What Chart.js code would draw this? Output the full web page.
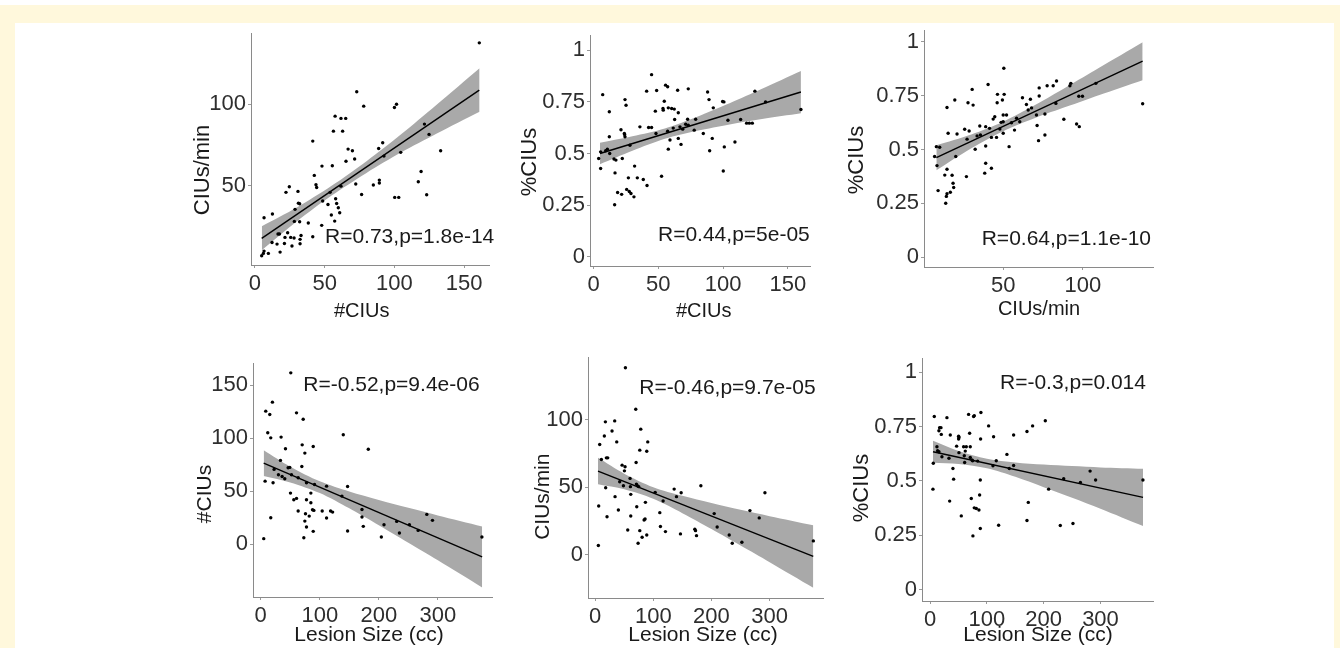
<!DOCTYPE html>
<html>
<head>
<meta charset="utf-8">
<script src="https://cdn.jsdelivr.net/npm/chart.js@4.4.1/dist/chart.umd.min.js"></script>
<style>
  html, body { margin: 0; padding: 0; background: #fff; width: 1340px; height: 648px; overflow: hidden; position: relative; }
  .frame { position: absolute; background: #fff8dc; }
  canvas { position: absolute; }
</style>
</head>
<body>
<div class="frame" style="left:0;top:5px;width:1340px;height:18px"></div>
<div class="frame" style="left:0;top:5px;width:15px;height:643px"></div>
<div class="frame" style="left:1334px;top:5px;width:6px;height:643px"></div>
<script>
// panel 1: #CIUs vs CIUs/min
const p1x = [160.8,73.0,78.0,100.0,101.5,57.5,61.7,65.1,56.3,62.9,121.5,124.8,41.5,91.6,88.7,66.8,69.9,71.5,133.1,104.5,
  92.5,65.3,48.1,55.5,42.6,119.1,43.8,44.3,89.2,89.2,84.9,117.1,72.3,61.7,24.7,30.9,22.3,53.9,76.5,123.1,
  100.2,103.1,57.9,48.6,31.2,32.1,58.6,52.4,59.8,28.8,60.8,12.6,54.8,6.6,57.2,28.3,32.1,38.3,47.9,16.6,
  17.6,23.5,41.5,21.6,25.7,28.1,33.1,32.4,12.3,15.9,21.2,32.4,26.6,18.1,9.7,6.6,6.1,4.9];
const p1y = [137.6,107.6,98.8,98.0,100.0,92.7,91.3,91.3,83.5,83.5,87.8,81.5,77.4,76.4,72.9,72.5,71.5,66.4,71.5,70.5,
  68.2,65.1,62.1,62.3,56.4,58.8,50.7,49.0,53.5,51.7,50.5,52.5,51.1,49.8,49.4,46.6,46.0,46.0,44.7,44.5,
  42.9,42.9,42.1,40.7,39.4,39.0,39.2,38.6,36.6,35.6,33.5,32.7,32.1,30.4,28.4,28.2,28.0,27.2,25.8,20.5,
  20.5,21.3,18.8,18.4,18.4,18.0,19.6,17.2,15.3,14.3,14.7,14.5,13.1,9.4,8.6,10.0,8.6,7.2];
const p1fitX = [4.9, 160.8];
const p1fitY = [17.8, 108.6];
const p1bandX = [5, 30, 55, 80, 105, 130, 161];
const p1bandHi = [25.2, 36.7, 50.0, 65.1, 81.7, 99.5, 122.0];
const p1bandLo = [10.6, 28.1, 44.0, 57.9, 70.5, 81.9, 95.4];

// panel 2: #CIUs vs %CIUs
const p2x = [44.8,7.1,55.6,57.2,41.0,48.7,64.9,73.1,88.0,89.1,124.5,132.7,24.3,25.1,12.2,47.7,54.6,53.6,53.8,57.7,
  60.3,62.3,65.4,72.6,99.6,100.6,92.4,78.8,62.6,42.5,44.8,35.8,21.2,23.8,24.0,12.2,24.3,48.2,57.2,61.5,
  66.7,68.8,71.1,73.1,77.7,84.7,103.7,113.5,118.1,120.2,122.5,59.0,65.4,67.5,91.6,100.9,109.1,5.5,9.4,10.7,
  12.5,22.2,28.1,57.7,89.6,4.0,5.5,15.8,17.3,16.6,31.7,26.9,33.8,38.4,52.5,100.1,41.3,18.6,21.7,25.6,
  27.6,28.9,31.2,16.3,160.0];
const p2y = [0.882,0.785,0.831,0.823,0.802,0.805,0.806,0.813,0.798,0.761,0.802,0.750,0.761,0.734,0.702,0.705,0.753,0.718,0.710,0.721,
  0.718,0.715,0.697,0.666,0.752,0.750,0.721,0.666,0.665,0.626,0.626,0.629,0.615,0.597,0.592,0.581,0.581,0.597,0.608,0.623,
  0.629,0.618,0.642,0.637,0.613,0.597,0.661,0.665,0.647,0.647,0.647,0.565,0.573,0.544,0.573,0.532,0.556,0.508,0.513,0.521,
  0.500,0.476,0.540,0.521,0.513,0.476,0.427,0.473,0.468,0.406,0.439,0.382,0.382,0.374,0.390,0.415,0.345,0.311,0.302,0.326,
  0.316,0.306,0.290,0.252,0.713];
const p2fitX = [5, 160];
const p2fitY = [0.500, 0.798];
const p2bandX = [5, 30, 55, 80, 105, 130, 160];
const p2bandHi = [0.552, 0.583, 0.621, 0.678, 0.743, 0.813, 0.899];
const p2bandLo = [0.448, 0.513, 0.571, 0.610, 0.641, 0.667, 0.695];

// panel 3: CIUs/min vs %CIUs
const p3x = [50.4,40.5,30.5,77.6,83.5,81.4,92.5,91.9,108.2,19.6,27.9,31.1,46.4,50.6,46.2,49.5,62.1,67.1,64.6,67.8,
  72.6,72.6,83.1,97.5,99.8,14.7,50.0,52.1,44.7,43.7,48.7,50.0,58.4,60.4,65.7,70.9,76.2,55.2,88.1,96.1,
  97.8,71.3,35.3,39.0,25.8,28.6,41.4,47.9,15.4,21.0,33.6,35.7,42.6,50.0,57.1,8.0,10.1,27.3,39.0,45.8,
  32.4,53.7,76.2,72.2,6.9,8.4,20.2,39.0,38.4,42.6,14.7,17.9,26.9,9.1,13.3,14.7,14.3,16.8,18.5,18.9,
  13.9,137.6];
const p3y = [0.877,0.802,0.779,0.796,0.818,0.796,0.807,0.796,0.807,0.730,0.717,0.706,0.756,0.756,0.717,0.730,0.740,0.733,0.709,0.693,
  0.748,0.786,0.714,0.747,0.747,0.695,0.660,0.660,0.652,0.641,0.626,0.629,0.645,0.629,0.683,0.660,0.665,0.624,0.640,0.618,
  0.606,0.611,0.609,0.606,0.594,0.586,0.598,0.595,0.575,0.572,0.563,0.567,0.556,0.575,0.590,0.513,0.510,0.548,0.516,0.556,
  0.501,0.513,0.567,0.541,0.467,0.425,0.467,0.436,0.390,0.413,0.408,0.380,0.374,0.309,0.381,0.294,0.282,0.301,0.343,0.323,
  0.250,0.712];
const p3fitX = [8, 137.6];
const p3fitY = [0.462, 0.910];
const p3bandX = [8, 30, 50, 70, 90, 110, 137.6];
const p3bandHi = [0.520, 0.570, 0.629, 0.706, 0.791, 0.878, 0.998];
const p3bandLo = [0.404, 0.506, 0.585, 0.646, 0.699, 0.752, 0.822];

// panel 4: lesion size vs #CIUs
const p4x = [50.9,19.8,8.5,15.3,60.6,71.9,11.9,17.0,34.5,139.8,70.2,88.9,41.9,182.2,74.7,33.4,69.6,46.4,49.2,22.6,
  7.4,20.9,30.0,36.2,40.7,52.1,63.4,77.5,91.1,111.5,147.1,50.4,84.9,56.0,60.6,77.5,84.9,137.5,17.0,63.4,
  75.8,82.1,87.7,90.0,104.1,111.5,118.3,121.7,74.7,77.5,73.0,88.9,147.1,171.5,171.5,173.7,208.8,204.3,230.3,234.9,
  251.8,266.6,281.3,290.9,374.6,5.1];
const p4y = [161.7,134.0,125.5,122.4,123.9,117.9,105.1,100.3,101.0,103.2,93.7,92.1,90.0,89.6,85.9,79.0,73.3,72.0,72.4,70.5,
  59.4,57.9,65.4,63.8,61.7,65.4,62.6,57.9,56.3,54.7,54.4,48.1,48.1,41.9,43.1,41.9,39.0,45.3,24.9,31.2,
  28.6,26.4,32.4,31.8,31.2,24.6,31.2,30.2,21.7,16.1,6.0,12.0,12.3,32.7,25.5,16.7,18.3,6.6,21.4,10.4,
  18.3,12.9,28.0,22.4,6.6,5.1];
const p4fitX = [5, 375];
const p4fitY = [76.4, -12.2];
const lesionBandX = [5, 50, 100, 150, 200, 250, 300, 375];
const p4bandHi = [88.6, 73.1, 59.3, 49.7, 41.7, 34.2, 27.0, 16.6];
const p4bandLo = [64.2, 58.1, 48.1, 33.7, 17.7, 1.2, -15.4, -41.0];

// panel 5: lesion size vs CIUs/min
const p5x = [52.1,69.9,17.7,33.7,78.5,29.1,15.9,37.2,90.5,7.9,76.8,88.8,70.5,10.8,19.4,21.7,46.4,51.5,50.4,42.3,
  60.1,71.0,72.7,75.0,60.7,48.7,61.3,103.2,135.9,147.9,139.9,181.8,18.2,34.3,116.9,86.5,6.2,40.0,61.3,71.6,
  84.2,85.9,20.5,111.2,112.3,120.9,146.7,56.1,76.8,80.8,73.9,88.8,5.6,171.4,172.6,174.3,204.7,209.8,230.5,235.7,
  252.3,266.1,282.1,291.9,375.1];
const p5y = [138.3,107.6,98.3,99.0,92.9,91.6,87.9,83.5,83.5,81.6,77.4,76.6,68.3,70.5,71.7,71.7,66.3,65.1,62.1,54.0,
  56.5,52.3,51.1,50.4,50.4,51.1,44.7,46.2,48.6,45.9,43.0,51.1,49.6,43.0,39.8,38.8,36.1,33.2,28.7,35.6,
  25.8,26.5,28.2,31.2,20.9,17.2,15.5,18.4,17.9,13.0,8.6,14.7,6.9,18.9,17.9,14.2,30.5,20.6,14.7,8.6,
  9.3,32.7,27.3,45.9,10.3];
const p5fitX = [5, 375];
const p5fitY = [61.9, -1.2];
const p5bandHi = [71.7, 60.0, 50.0, 43.6, 38.3, 33.3, 28.6, 21.9];
const p5bandLo = [52.1, 48.4, 41.4, 30.8, 19.1, 6.9, -5.4, -24.3];

// panel 6: lesion size vs %CIUs
const p6x = [89.4,67.7,76.5,77.7,7.2,29.5,202.8,16.6,19.0,15.4,19.6,35.4,69.5,102.9,180.4,111.7,170.5,147.0,50.1,50.7,
  50.1,88.8,11.9,46.6,58.9,63.6,70.6,13.1,15.4,20.7,33.1,50.7,61.8,60.1,70.6,73.6,74.7,83.6,60.7,5.5,
  40.1,135.2,116.4,110.6,139.3,147.0,41.3,88.3,281.7,291.4,235.2,264.6,4.9,72.4,87.1,208.7,34.3,77.7,81.2,85.9,
  54.8,172.8,170.5,120.6,88.3,229.2,251.5,75.3,374.8];
const p6y = [0.815,0.806,0.796,0.800,0.796,0.791,0.777,0.745,0.745,0.731,0.714,0.711,0.719,0.753,0.753,0.703,0.727,0.711,0.706,0.700,
  0.693,0.693,0.657,0.660,0.657,0.657,0.657,0.639,0.634,0.611,0.604,0.630,0.637,0.616,0.608,0.596,0.593,0.591,0.585,0.581,
  0.557,0.622,0.593,0.570,0.557,0.571,0.508,0.504,0.545,0.504,0.510,0.493,0.462,0.419,0.435,0.462,0.407,0.376,0.373,0.366,
  0.339,0.401,0.318,0.296,0.281,0.295,0.304,0.247,0.504];
const p6fitX = [5, 375];
const p6fitY = [0.634, 0.424];
const p6bandHi = [0.685, 0.638, 0.602, 0.585, 0.575, 0.568, 0.562, 0.556];
const p6bandLo = [0.583, 0.578, 0.558, 0.519, 0.471, 0.422, 0.372, 0.292];

// tick labels
const countTicks = [0, 50, 100, 150];
const rateTicksTop = [50, 100];
const rateTicks = [0, 50, 100];
const pctTicks = [0, 0.25, 0.5, 0.75, 1];
const lesionTicks = [0, 100, 200, 300];

const statLabels = ['R=0.73,p=1.8e-14', 'R=0.44,p=5e-05', 'R=0.64,p=1.1e-10',
                    'R=-0.52,p=9.4e-06', 'R=-0.46,p=9.7e-05', 'R=-0.3,p=0.014'];

const FONT = '"Liberation Sans", Arial, Helvetica, sans-serif';
const Y_W = 80, X_H = 55, PAD_T = 15, PAD_R = 25;

const textPlugin = {
  id: 'panelText',
  afterDraw(chart, args, opts) {
    const ctx = chart.ctx;
    (opts.items || []).forEach(t => {
      ctx.save();
      ctx.font = t.size + 'px ' + FONT;
      ctx.fillStyle = t.color || '#1a1a1a';
      ctx.textAlign = t.align || 'center';
      ctx.textBaseline = t.baseline || 'alphabetic';
      ctx.translate(t.x - opts.ox, t.y - opts.oy);
      if (t.rot) ctx.rotate(t.rot);
      ctx.fillText(t.text, 0, 0);
      ctx.restore();
    });
  }
};

const zip = (xs, ys) => xs.map((x, i) => ({x: x, y: ys[i]}));

function panel(p) {
  const [L, T, R, B] = p.area;
  const c = document.createElement('canvas');
  const left = L - Y_W, top = T - PAD_T;
  c.width = R - L + Y_W + PAD_R;
  c.height = B - T + PAD_T + X_H;
  c.style.left = left + 'px';
  c.style.top = top + 'px';
  document.body.appendChild(c);

  const axisCommon = (ticks, pad) => ({
    type: 'linear',
    grid: {display: true, drawOnChartArea: false, drawTicks: true, tickLength: 3, color: '#9a9a9a'},
    border: {display: true, color: '#8a8a8a', width: 1},
    ticks: {font: {size: 22, family: FONT}, color: '#2e2e2e', padding: pad, maxRotation: 0, autoSkip: false,
            callback: v => String(v)},
    afterBuildTicks: a => { a.ticks = ticks.map(v => ({value: v})); }
  });

  const xs = axisCommon(p.xTicks, 3);
  xs.min = p.xr[0]; xs.max = p.xr[1];
  xs.afterFit = a => { a.height = X_H; };
  const ys = axisCommon(p.yTicks, 2);
  ys.min = p.yr[0]; ys.max = p.yr[1];
  ys.afterFit = a => { a.width = Y_W; };

  new Chart(c, {
    type: 'scatter',
    data: {
      datasets: [
        {type: 'line', data: zip(p.fitX, p.fitY), borderColor: '#000', borderWidth: 1.4,
         pointRadius: 0, fill: false, order: 0},
        {data: zip(p.xs, p.ys), pointRadius: 1.7, pointBorderWidth: 0,
         pointBackgroundColor: '#000', backgroundColor: '#000', order: 1},
        {type: 'line', data: zip(p.bandX, p.bandHi), borderWidth: 0, pointRadius: 0,
         fill: false, tension: 0.3, order: 3},
        {type: 'line', data: zip(p.bandX, p.bandLo), borderWidth: 0, pointRadius: 0,
         fill: '-1', backgroundColor: '#a9a9a9', tension: 0.3, order: 3}
      ]
    },
    options: {
      responsive: false,
      animation: false,
      events: [],
      layout: {padding: {left: 0, top: PAD_T, right: PAD_R, bottom: 0}},
      plugins: {
        legend: {display: false},
        tooltip: {enabled: false},
        panelText: {ox: left, oy: top, items: p.texts}
      },
      scales: {x: xs, y: ys}
    },
    plugins: [textPlugin]
  });
}

panel({
  area: [251, 33, 489, 265], xr: [-2.75, 167.75], yr: [1.5, 143.5],
  xTicks: countTicks, yTicks: rateTicksTop,
  xs: p1x, ys: p1y, fitX: p1fitX, fitY: p1fitY, bandX: p1bandX, bandHi: p1bandHi, bandLo: p1bandLo,
  texts: [
    {text: statLabels[0], x: 325, y: 242.7, size: 21, align: 'left'},
    {text: '#CIUs', x: 361.7, y: 316.7, size: 20},
    {text: 'CIUs/min', x: 203, y: 170, size: 22, rot: -Math.PI / 2, baseline: 'middle'}
  ]
});
panel({
  area: [590, 35, 810, 266], xr: [-2.7, 167], yr: [-0.045, 1.073],
  xTicks: countTicks, yTicks: pctTicks,
  xs: p2x, ys: p2y, fitX: p2fitX, fitY: p2fitY, bandX: p2bandX, bandHi: p2bandHi, bandLo: p2bandLo,
  texts: [
    {text: statLabels[1], x: 658, y: 241, size: 21, align: 'left'},
    {text: '#CIUs', x: 703.7, y: 316.7, size: 20},
    {text: '%CIUs', x: 530, y: 162, size: 22, rot: -Math.PI / 2, baseline: 'middle'}
  ]
});
panel({
  area: [924, 30, 1153, 267], xr: [0.25, 144.1], yr: [-0.046, 1.054],
  xTicks: rateTicksTop, yTicks: pctTicks,
  xs: p3x, ys: p3y, fitX: p3fitX, fitY: p3fitY, bandX: p3bandX, bandHi: p3bandHi, bandLo: p3bandLo,
  texts: [
    {text: statLabels[2], x: 981.7, y: 245, size: 21, align: 'left'},
    {text: 'CIUs/min', x: 1039, y: 315, size: 20},
    {text: '%CIUs', x: 857, y: 160, size: 22, rot: -Math.PI / 2, baseline: 'middle'}
  ]
});
panel({
  area: [253, 363, 492, 597], xr: [-13.1, 391.7], yr: [-50, 170.8],
  xTicks: lesionTicks, yTicks: countTicks,
  xs: p4x, ys: p4y, fitX: p4fitX, fitY: p4fitY, bandX: lesionBandX, bandHi: p4bandHi, bandLo: p4bandLo,
  texts: [
    {text: statLabels[3], x: 303.3, y: 390.7, size: 21, align: 'left'},
    {text: 'Lesion Size (cc)', x: 369, y: 641, size: 21},
    {text: '#CIUs', x: 205.7, y: 494, size: 21, rot: -Math.PI / 2, baseline: 'middle'}
  ]
});
panel({
  area: [588, 357, 823, 598], xr: [-12.2, 391.7], yr: [-31.9, 146.1],
  xTicks: lesionTicks, yTicks: rateTicks,
  xs: p5x, ys: p5y, fitX: p5fitX, fitY: p5fitY, bandX: lesionBandX, bandHi: p5bandHi, bandLo: p5bandLo,
  texts: [
    {text: statLabels[4], x: 639.3, y: 394.3, size: 21, align: 'left'},
    {text: 'Lesion Size (cc)', x: 703, y: 641, size: 21},
    {text: 'CIUs/min', x: 543.3, y: 496.7, size: 21, rot: -Math.PI / 2, baseline: 'middle'}
  ]
});
panel({
  area: [922, 358, 1153, 601], xr: [-14.4, 392.5], yr: [-0.0525, 1.0645],
  xTicks: lesionTicks, yTicks: pctTicks,
  xs: p6x, ys: p6y, fitX: p6fitX, fitY: p6fitY, bandX: lesionBandX, bandHi: p6bandHi, bandLo: p6bandLo,
  texts: [
    {text: statLabels[5], x: 1000, y: 389.3, size: 21, align: 'left'},
    {text: 'Lesion Size (cc)', x: 1038, y: 641, size: 21},
    {text: '%CIUs', x: 862, y: 488, size: 22, rot: -Math.PI / 2, baseline: 'middle'}
  ]
});
</script>
</body>
</html>
